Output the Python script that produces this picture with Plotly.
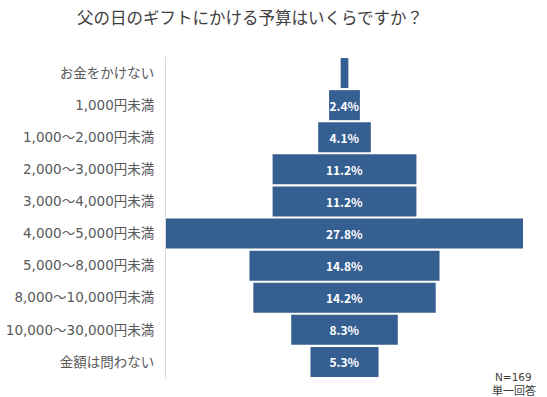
import plotly.graph_objects as go

categories = ["お金をかけない", "1,000円未満", "1,000～2,000円未満", "2,000～3,000円未満",
              "3,000～4,000円未満", "4,000～5,000円未満", "5,000～8,000円未満",
              "8,000～10,000円未満", "10,000～30,000円未満", "金額は問わない"]
values = [0.6, 2.4, 4.1, 11.2, 11.2, 27.8, 14.8, 14.2, 8.3, 5.3]
labels = ["", "2.4%", "4.1%", "11.2%", "11.2%", "27.8%", "14.8%", "14.2%", "8.3%", "5.3%"]

FONT = "Noto Sans CJK JP"
TICKFONT = "DejaVu Sans, Noto Sans CJK JP"

W, H = 547, 397
L, R, T, B = 166, 24, 57, 19
pa_w = W - L - R
pa_h = H - T - B

fig = go.Figure(go.Funnel(
    y=categories, x=values, text=labels, textinfo="text",
    textposition="inside", insidetextanchor="middle",
    textfont=dict(family=FONT, size=12, color="white", weight="bold"),
    constraintext="none",
    marker=dict(color="#365F91", line=dict(width=0)),
    connector=dict(visible=False),
    hoverinfo="y+x",
))

half = max(values) / 2
fig.update_layout(
    width=W, height=H,
    margin=dict(l=L, r=R, t=T, b=B, autoexpand=False),
    paper_bgcolor="white", plot_bgcolor="white",
    funnelgap=0.065,
    showlegend=False,
    title=dict(text="父の日のギフトにかける予算はいくらですか？", x=250/W, xanchor="center",
               y=1 - 18/H, yanchor="middle",
               font=dict(family=FONT, size=16.5, color="#404040")),
    font=dict(family=FONT),
    xaxis=dict(range=[-half, half], visible=False, fixedrange=True, automargin=False),
    yaxis=dict(showline=True, linecolor="#d9d9d9", linewidth=1, ticks="",
               ticklabelstandoff=8, automargin=False,
               tickfont=dict(family=TICKFONT, size=13.5, color="#595959"),
               showgrid=False, zeroline=False, domain=[0, 1]),
    annotations=[
        dict(text="N=169", x=(513 - L) / pa_w, y=(H - B - 377) / pa_h, xref="paper", yref="paper",
             xanchor="center", yanchor="middle", showarrow=False,
             font=dict(family=TICKFONT, size=10.5, color="#404040")),
        dict(text="単一回答", x=(514 - L) / pa_w, y=(H - B - 389.5) / pa_h, xref="paper", yref="paper",
             xanchor="center", yanchor="middle", showarrow=False,
             font=dict(family=FONT, size=11, color="#404040")),
    ],
)

fig.write_html("out.html", config={"displayModeBar": False},
               post_script="document.body.style.margin='0';document.body.style.padding='0';document.body.style.overflow='hidden';")
